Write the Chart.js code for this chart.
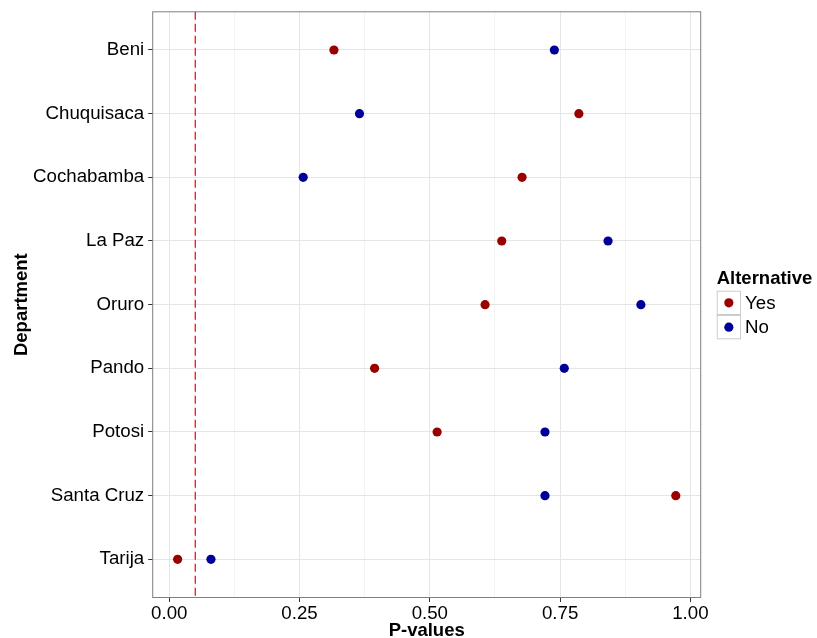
<!DOCTYPE html>
<html>
<head>
<meta charset="utf-8">
<script src="https://cdn.jsdelivr.net/npm/chart.js@4/dist/chart.umd.min.js"></script>
<style>
  body { margin: 0; background: #fff; }
  #wrap { width: 817px; height: 638px; }
</style>
</head>
<body>
<div id="wrap"><canvas id="dot_chart" width="817" height="638"></canvas></div>
<script>
var departments = ['Beni', 'Chuquisaca', 'Cochabamba', 'La Paz', 'Oruro', 'Pando', 'Potosi', 'Santa Cruz', 'Tarija'];
var yesValues = [0.316, 0.786, 0.677, 0.638, 0.606, 0.394, 0.514, 0.972, 0.016];
var noValues = [0.739, 0.365, 0.257, 0.842, 0.905, 0.758, 0.721, 0.721, 0.080];
var xMajorTicks = [0, 0.25, 0.5, 0.75, 1];
var xMinorTicks = [0.125, 0.375, 0.625, 0.875];
var xTickLabels = ['0.00', '0.25', '0.50', '0.75', '1.00'];
var cutoff = 0.05;

var fontFamily = '"Liberation Sans", Arial, Helvetica, sans-serif';

function toPoints(values) {
  return values.map(function (v, i) { return { x: v, y: i }; });
}

function isMajor(v) {
  return xMajorTicks.indexOf(v) !== -1;
}

// panel border + legend, ggplot style
var extras = {
  id: 'extras',
  afterDraw: function (chart) {
    var ctx = chart.ctx;
    var a = chart.chartArea;
    ctx.save();
    ctx.strokeStyle = '#7f7f7f';
    ctx.lineWidth = 1;
    ctx.strokeRect(a.left, a.top, a.right - a.left, a.bottom - a.top);

    var lx = 716.7, ly = 290.7, key = 24.3;
    ctx.fillStyle = '#000';
    ctx.font = 'bold 18.5px ' + fontFamily;
    ctx.textBaseline = 'alphabetic';
    ctx.textAlign = 'left';
    ctx.fillText('Alternative', lx, 284);
    ctx.font = '18.7px ' + fontFamily;
    var items = chart.data.datasets.filter(function (d) { return d.showInLegend; });
    items.forEach(function (d, i) {
      var y = ly + i * key;
      ctx.fillStyle = '#fff';
      ctx.fillRect(lx, y, key, key);
      ctx.strokeStyle = '#cccccc';
      ctx.strokeRect(lx + 0.5, y + 0.5, key - 1, key - 1);
      ctx.fillStyle = d.backgroundColor;
      ctx.beginPath();
      ctx.arc(lx + key / 2, y + key / 2, 4.6, 0, Math.PI * 2);
      ctx.fill();
      ctx.fillStyle = '#000';
      ctx.textBaseline = 'middle';
      ctx.fillText(d.label, lx + key + 4, y + key / 2 + 1);
    });
    ctx.restore();
  }
};

new Chart(document.getElementById('dot_chart').getContext('2d'), {
  type: 'scatter',
  data: {
    datasets: [{
      label: 'Yes',
      data: toPoints(yesValues),
      backgroundColor: '#990000',
      borderWidth: 0,
      pointRadius: 4.6,
      showInLegend: true
    }, {
      label: 'No',
      data: toPoints(noValues),
      backgroundColor: '#000099',
      borderWidth: 0,
      pointRadius: 4.6,
      showInLegend: true
    }, {
      label: 'cutoff',
      type: 'line',
      data: [{ x: cutoff, y: -0.6 }, { x: cutoff, y: departments.length - 0.4 }],
      borderColor: '#ff1a1a',
      borderWidth: 1.4,
      borderDash: [8, 4],
      pointRadius: 0,
      fill: false
    }]
  },
  options: {
    responsive: false,
    animation: false,
    layout: { padding: { top: 11.8, right: 116.3, left: 0, bottom: 0 } },
    plugins: {
      legend: { display: false },
      tooltip: { enabled: false }
    },
    scales: {
      x: {
        type: 'linear',
        min: -0.0318,
        max: 1.0198,
        afterBuildTicks: function (scale) {
          scale.ticks = xMajorTicks.concat(xMinorTicks).sort().map(function (v) { return { value: v }; });
        },
        afterFit: function (scale) {
          scale.height = 40.5;
          scale.paddingLeft = 0;
          scale.paddingRight = 0;
        },
        border: { display: false },
        grid: {
          color: function (c) { return isMajor(c.tick.value) ? '#e5e5e5' : '#f3f3f3'; },
          tickColor: function (c) { return isMajor(c.tick.value) ? '#333333' : 'rgba(0,0,0,0)'; },
          tickLength: 4.5,
          lineWidth: 1
        },
        ticks: {
          autoSkip: false,
          maxRotation: 0,
          padding: 1,
          color: '#000',
          font: { family: fontFamily, size: 18.7 },
          callback: function (v) {
            var i = xMajorTicks.indexOf(v);
            return i === -1 ? '' : xTickLabels[i];
          }
        },
        title: {
          display: true,
          text: 'P-values',
          color: '#000',
          font: { family: fontFamily, size: 18.5, weight: 'bold' },
          padding: { top: 0, bottom: -4.5 }
        }
      },
      y: {
        type: 'linear',
        reverse: true,
        min: -0.6,
        max: departments.length - 0.4,
        afterBuildTicks: function (scale) {
          scale.ticks = departments.map(function (d, i) { return { value: i }; });
        },
        afterFit: function (scale) {
          scale.width = 152.7;
          scale.paddingTop = 0;
          scale.paddingBottom = 0;
        },
        border: { display: false },
        grid: {
          color: '#e5e5e5',
          tickColor: '#333333',
          tickLength: 4.5,
          lineWidth: 1
        },
        ticks: {
          autoSkip: false,
          padding: 4,
          color: '#000',
          font: { family: fontFamily, size: 18.7 },
          callback: function (v) { return departments[v]; }
        },
        title: {
          display: true,
          text: 'Department',
          color: '#000',
          font: { family: fontFamily, size: 18.5, weight: 'bold' },
          padding: { top: 10.5, bottom: 0 }
        }
      }
    }
  },
  plugins: [extras]
});
</script>
</body>
</html>
